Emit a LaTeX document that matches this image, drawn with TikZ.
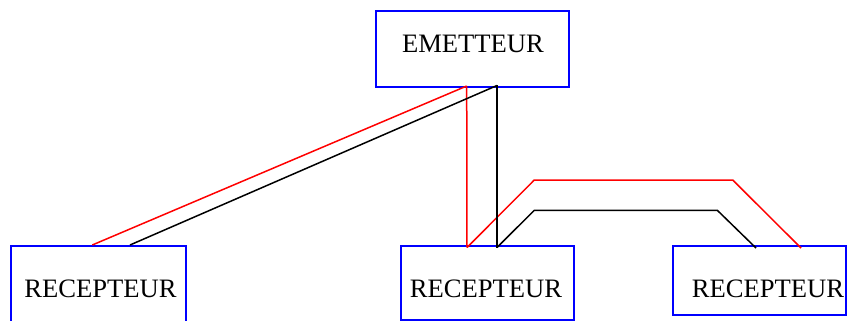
\documentclass[tikz,border=0pt]{standalone}
\usepackage{fontspec}
\setmainfont{Liberation Serif}
\begin{document}
\begin{tikzpicture}[x=1pt,y=-1pt,
  boxst/.style={draw=blue,line width=1.6pt,inner sep=0pt,anchor=north west},
  lbl/.style={anchor=base,inner sep=0pt,font=\fontsize{26.6}{30}\selectfont},
  redw/.style={draw=red,line width=1.5pt},
  blkw/.style={draw=black,line width=1.5pt}]
\useasboundingbox (0,0) rectangle (847,321);
% boxes
\node[boxst,minimum width=193pt,minimum height=76pt] (em) at (375,10) {};
\node[boxst,minimum width=175pt,minimum height=76pt] (r1) at (10,245) {};
\node[boxst,minimum width=173pt,minimum height=74pt] (r2) at (400,245) {};
\node[boxst,minimum width=173pt,minimum height=69pt] (r3) at (672,245) {};
% labels
\node[lbl] (tem) at (473,52.5) {EMETTEUR};
\node[lbl] (tr1) at (100.5,297.5) {RECEPTEUR};
\node[lbl] (tr2) at (486,297.5) {RECEPTEUR};
\node[lbl] (tr3) at (768,297.5) {RECEPTEUR};
% connection points
\coordinate (emR) at (466.7,86);
\coordinate (emB) at (497,85.5);
\coordinate (r1R) at (92.3,245);
\coordinate (r1B) at (130,245);
\coordinate (r2R) at (467,247.5);
\coordinate (r2B) at (497,247.5);
\coordinate (r3B) at (756,248);
\coordinate (r3R) at (801,248);
% red lines
\draw[redw] (emR) -- (r1R);
\draw[redw] (emR) -- (r2R);
\draw[redw] (r2R) -- (534.3,180) -- (732.7,180) -- (r3R);
% black lines
\draw[blkw] (emB) -- (r1B);
\draw[blkw] (emB) -- (r2B);
\draw[blkw] (r2B) -- (534.3,210.3) -- (717.3,210.3) -- (r3B);
\end{tikzpicture}
\end{document}
